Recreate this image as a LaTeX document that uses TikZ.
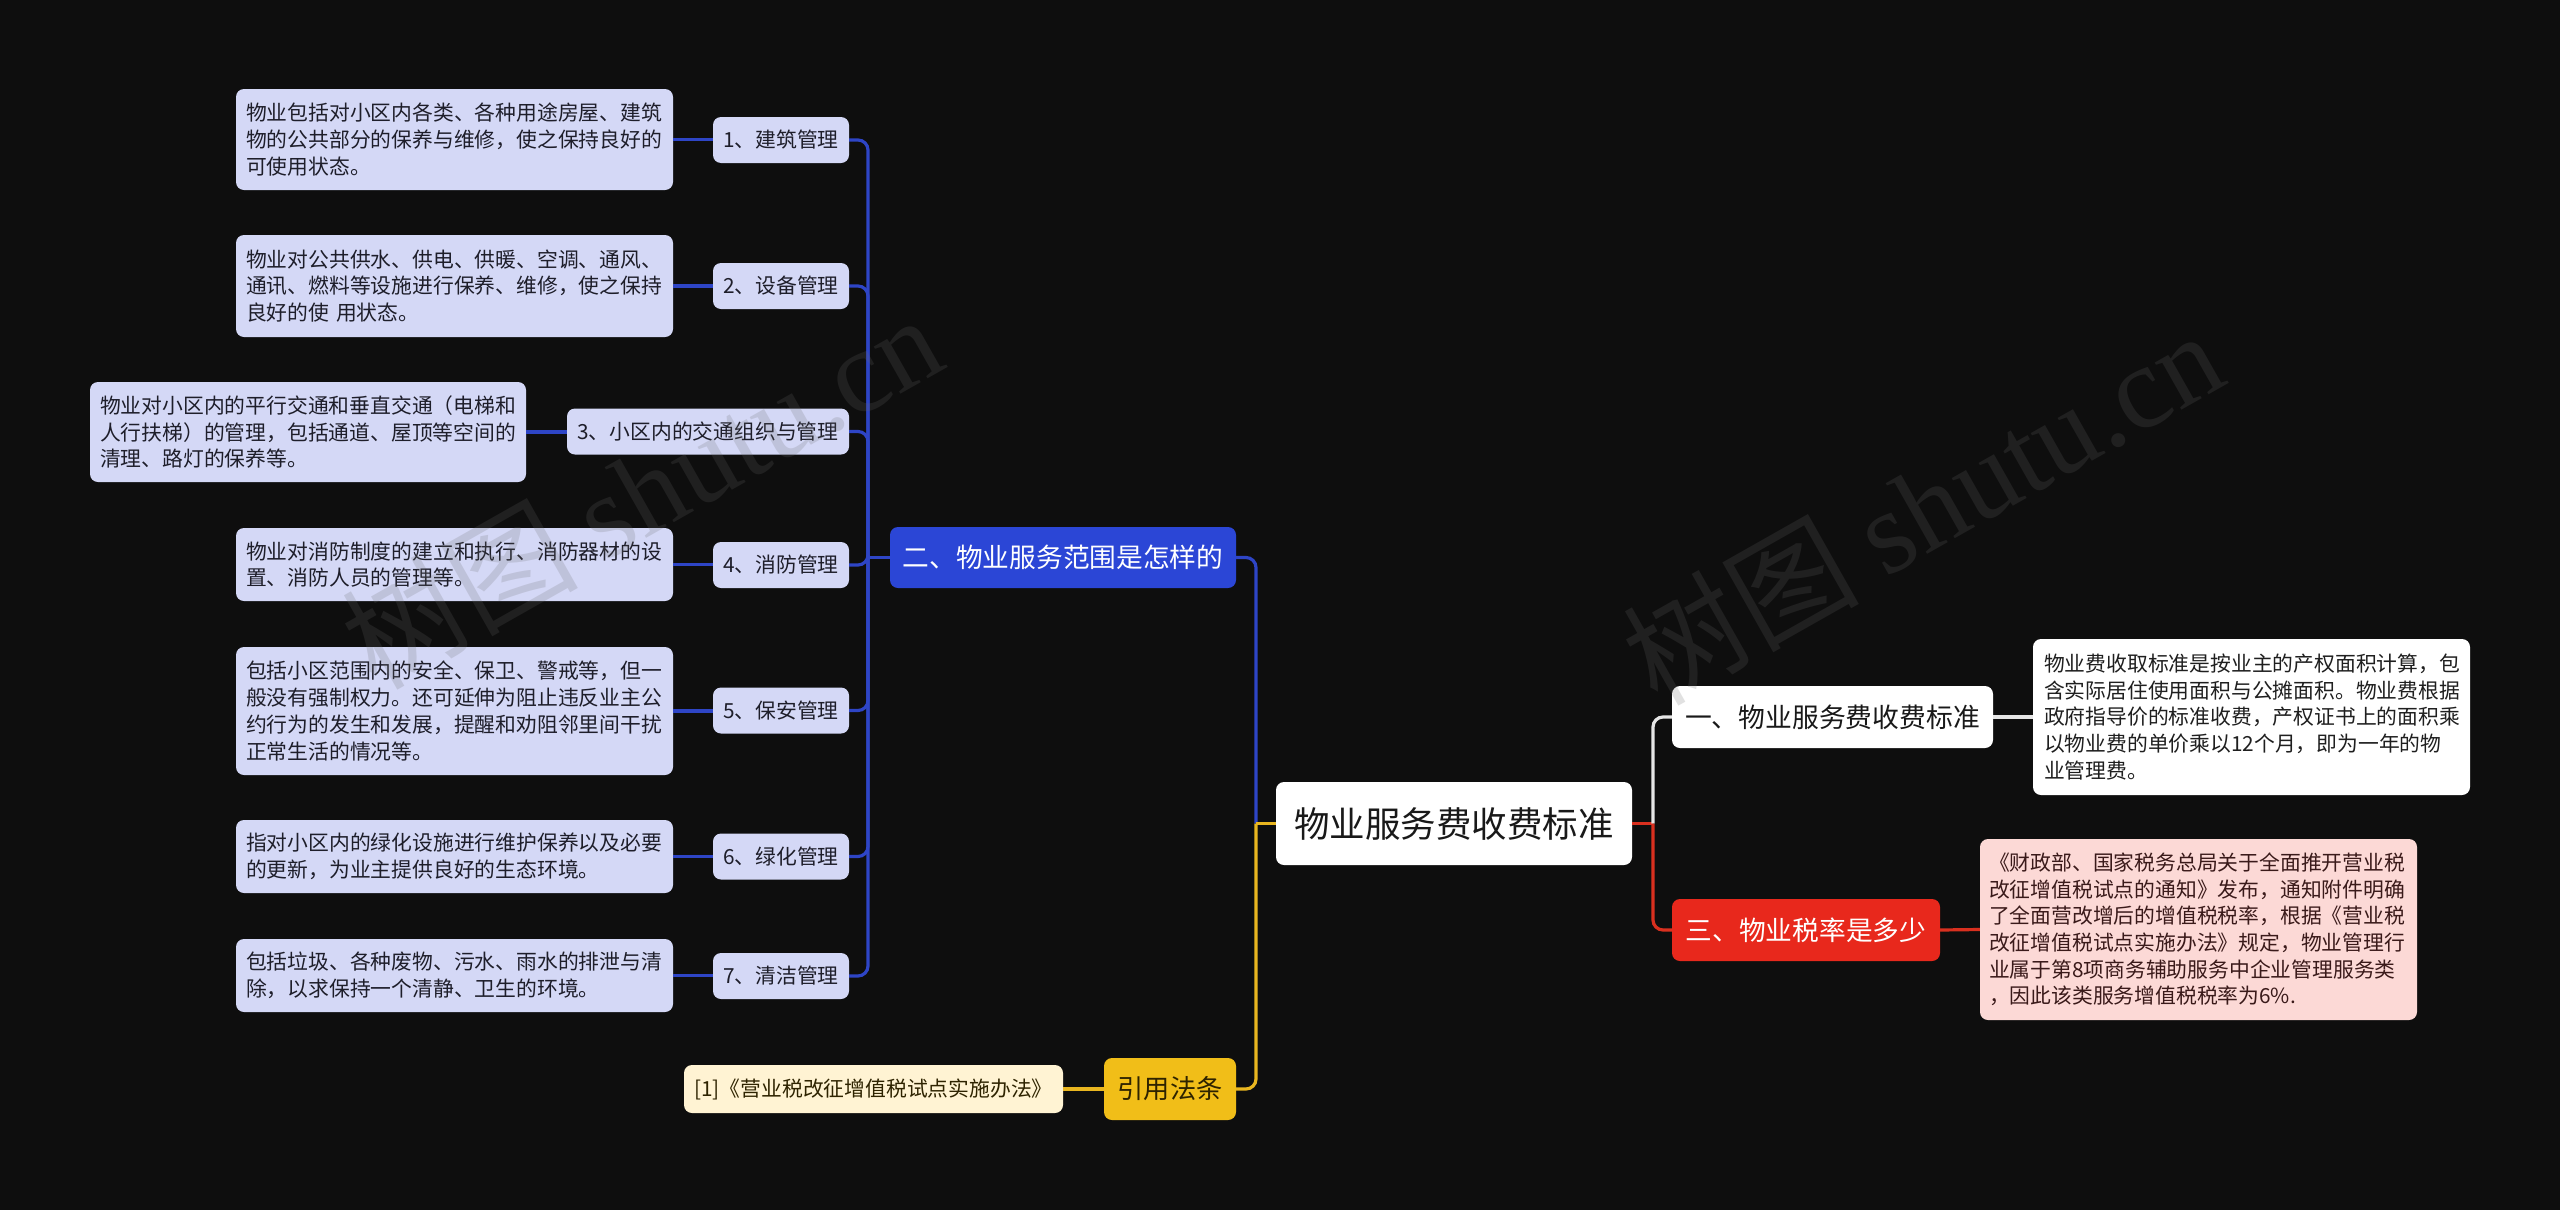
\documentclass[tikz,border=0pt]{standalone}
\usepackage{fontspec}
\setmainfont{Noto Sans CJK SC}
\newfontfamily\wmserif{Liberation Serif}
\definecolor{bgc}{HTML}{0E0E0E}
\definecolor{blueN}{HTML}{2B46D6}
\definecolor{blueL}{HTML}{2E45C6}
\definecolor{lav}{HTML}{D4D8F6}
\definecolor{lavtxt}{HTML}{1E1E2A}
\definecolor{redN}{HTML}{E8281C}
\definecolor{redL}{HTML}{D9301F}
\definecolor{pinkF}{HTML}{FCD9D6}
\definecolor{pinktxt}{HTML}{3A1A1A}
\definecolor{yelN}{HTML}{F1BE18}
\definecolor{yelL}{HTML}{E9B620}
\definecolor{yelF}{HTML}{FFF3D3}
\definecolor{yeltxt}{HTML}{2E2300}
\definecolor{whiteL}{HTML}{E6E6E6}
\definecolor{wmc}{HTML}{6A6A6A}
\newcommand\myfs[2]{\fontsize{#1}{#2}\selectfont}
\tikzset{
  basebox/.style={rounded corners=8pt, inner sep=0pt, align=center},
  leafbox/.style={basebox, fill=lav, text=lavtxt, align=left, inner xsep=10pt, font=\myfs{20.8}{26.7}},
  childbox/.style={basebox, fill=lav, text=lavtxt, font=\myfs{20.8}{26.7}, minimum height=46pt},
  bline/.style={draw=blueL, line width=3.2pt},
  rline/.style={draw=redL, line width=3.2pt},
  yline/.style={draw=yelL, line width=3.2pt},
  wline/.style={draw=whiteL, line width=3.2pt},
  rc/.style={rounded corners=10pt}
}
\begin{document}
\begin{tikzpicture}[x=1pt,y=-1pt]
\fill[bgc] (0,0) rectangle (2560,1210);
\useasboundingbox (0,0) rectangle (2560,1210);

% root and main branches
\node[basebox, fill=white, text=black!90, font=\myfs{35.5}{40}, minimum width=356pt, minimum height=83pt] (root) at (1454,823.5) {物业服务费收费标准};
\node[basebox, fill=blueN, text=white, font=\myfs{26.7}{30}, minimum width=346pt, minimum height=61pt] (b2) at (1063,557.5) {二、物业服务范围是怎样的};
\node[basebox, fill=white, text=black!90, font=\myfs{26.8}{30}, minimum width=321pt, minimum height=62pt] (b1) at (1832.5,717) {一、物业服务费收费标准};
\node[basebox, fill=redN, text=white, font=\myfs{26.7}{30}, minimum width=268pt, minimum height=62pt] (b3) at (1806,930) {三、物业税率是多少};
\node[basebox, fill=yelN, text=yeltxt, font=\myfs{26.2}{30}, minimum width=132pt, minimum height=62pt] (law) at (1170,1089) {引用法条};
\node[basebox, fill=yelF, text=yeltxt, font=\myfs{20.8}{26.7}, minimum width=379pt, minimum height=48pt] (ref) at (873.5,1089) {[1]《营业税改征增值税试点实施办法》};

% right leaves
\node[basebox, fill=white, text=black!88, align=left, inner xsep=11pt, font=\myfs{20.8}{26.7}, text width=415pt, minimum height=156pt] (r1) at (2251.5,717) {物业费收取标准是按业主的产权面积计算，包\\含实际居住使用面积与公摊面积。物业费根据\\政府指导价的标准收费，产权证书上的面积乘\\以物业费的单价乘以12个月，即为一年的物\\业管理费。};
\node[basebox, fill=pinkF, text=pinktxt, align=left, inner xsep=9pt, font=\myfs{20.8}{26.7}, text width=419pt, minimum height=181pt] (r3) at (2198.5,929.5) {《财政部、国家税务总局关于全面推开营业税\\改征增值税试点的通知》发布，通知附件明确\\了全面营改增后的增值税税率，根据《营业税\\改征增值税试点实施办法》规定，物业管理行\\业属于第8项商务辅助服务中企业管理服务类\\，因此该类服务增值税税率为6\%.};

% children of b2
\node[childbox, minimum width=136pt] (c1) at (781,140) {1、建筑管理};
\node[childbox, minimum width=136pt] (c2) at (781,286) {2、设备管理};
\node[childbox, minimum width=282pt] (c3) at (708,431.5) {3、小区内的交通组织与管理};
\node[childbox, minimum width=136pt] (c4) at (781,565) {4、消防管理};
\node[childbox, minimum width=136pt] (c5) at (781,710.5) {5、保安管理};
\node[childbox, minimum width=136pt] (c6) at (781,856.5) {6、绿化管理};
\node[childbox, minimum width=136pt] (c7) at (781,976) {7、清洁管理};

% left leaves
\node[leafbox, text width=417pt, minimum height=101pt] (l1) at (454.5,139.5) {物业包括对小区内各类、各种用途房屋、建筑\\物的公共部分的保养与维修，使之保持良好的\\可使用状态。};
\node[leafbox, text width=417pt, minimum height=102pt] (l2) at (454.5,286) {物业对公共供水、供电、供暖、空调、通风、\\通讯、燃料等设施进行保养、维修，使之保持\\良好的使 用状态。};
\node[leafbox, text width=416pt, minimum height=100pt] (l3) at (308,432) {物业对小区内的平行交通和垂直交通（电梯和\\人行扶梯）的管理，包括通道、屋顶等空间的\\清理、路灯的保养等。};
\node[leafbox, text width=417pt, minimum height=73pt] (l4) at (454.5,564.5) {物业对消防制度的建立和执行、消防器材的设\\置、消防人员的管理等。};
\node[leafbox, text width=417pt, minimum height=128pt] (l5) at (454.5,711) {包括小区范围内的安全、保卫、警戒等，但一\\般没有强制权力。还可延伸为阻止违反业主公\\约行为的发生和发展，提醒和劝阻邻里间干扰\\正常生活的情况等。};
\node[leafbox, text width=417pt, minimum height=73pt] (l6) at (454.5,856.5) {指对小区内的绿化设施进行维护保养以及必要\\的更新，为业主提供良好的生态环境。};
\node[leafbox, text width=417pt, minimum height=73pt] (l7) at (454.5,975.5) {包括垃圾、各种废物、污水、雨水的排泄与清\\除，以求保持一个清静、卫生的环境。};

% junctions
\coordinate (j2) at (868,557.5);
\coordinate (jL) at (1256,823.5);
\coordinate (jR) at (1653,823.5);

% connectors: trunk of b2
\foreach \c in {c1,c2,c3,c4,c5,c6,c7}{
  \draw[bline, rc] (\c.east) -| (j2);
}
\draw[bline] (j2) -- (b2.west);
\foreach \l/\c in {l1/c1,l2/c2,l3/c3,l4/c4,l5/c5,l6/c6,l7/c7}{
  \draw[bline] (\l.east) -- (\l.east -| \c.west);
}
% root left
\draw[bline, rc] (b2.east) -| (jL);
\draw[yline, rc] (law.east) -| (jL);
\draw[yline] (jL) -- (root.west);
\draw[yline] (ref.east) -- (law.west);
% root right
\draw[rline] (root.east) -- (jR);
\draw[wline, rc] (jR) |- (b1.west);
\draw[rline, rc] (jR) |- (b3.west);
\draw[wline] (b1.east) -- (r1.west);
\draw[rline] (b3.east) -- (r3.west);

% watermarks
\node[rotate=29.5, text=wmc, opacity=0.2, font=\myfs{118}{120}] (wm1) at (641,490) {树图 {\wmserif shutu.cn}};
\node[rotate=29.5, text=wmc, opacity=0.2, font=\myfs{118}{120}] (wm2) at (1922,506) {树图 {\wmserif shutu.cn}};
\end{tikzpicture}
\end{document}
